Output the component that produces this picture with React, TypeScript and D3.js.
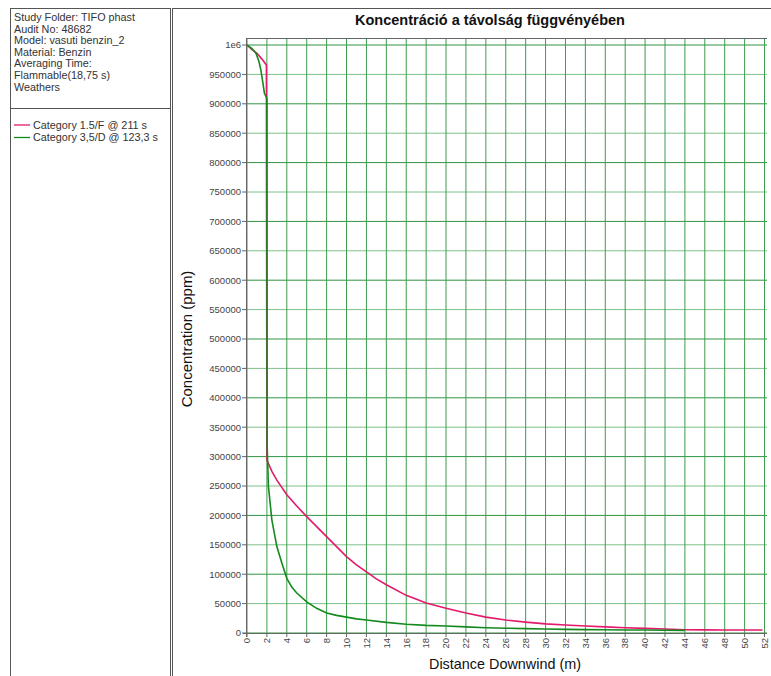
import React from "react";
import * as d3 from "d3";

const infoLines = [
  "Study Folder: TIFO phast",
  "Audit No: 48682",
  "Model: vasuti benzin_2",
  "Material: Benzin",
  "Averaging Time:",
  "Flammable(18,75 s)",
  "Weathers",
];

const seriesNames = ["Category 1.5/F @ 211 s", "Category 3,5/D @ 123,3 s"];
const seriesColors = ["#e3196b", "#138a1e"];

const redX = [0, 0.5, 1.0, 1.5, 1.95, 2.0, 2.5, 3, 4, 5, 6, 7, 8, 9, 10, 11, 12, 13, 14, 16, 18, 20, 22, 24, 26, 28, 30, 32, 34, 36, 38, 40, 42, 44, 46, 48, 50, 51.8];
const redY = [1000000, 992000, 986000, 976000, 966000, 294000, 275000, 260000, 235000, 216000, 198000, 181000, 164000, 147000, 130000, 116000, 104000, 92000, 82000, 64000, 51000, 42000, 34000, 27000, 22000, 18500, 15500, 13500, 12000, 10500, 9000, 7800, 6800, 5500, 5300, 5200, 5100, 5000];

const greenX = [0, 0.5, 0.9, 1.2, 1.4, 1.6, 1.75, 2.0, 2.02, 2.15, 2.5, 3, 3.5, 4, 4.5, 5, 6, 7, 8, 9, 10, 11, 12, 14, 16, 18, 20, 22, 24, 26, 28, 30, 32, 34, 36, 38, 40, 42, 44];
const greenY = [1000000, 994000, 986000, 972000, 957000, 935000, 918000, 909000, 320000, 250000, 192000, 147000, 119000, 93000, 78000, 68000, 53000, 42000, 34000, 30000, 27000, 24000, 22000, 18000, 15000, 13000, 12000, 10500, 9000, 8200, 7500, 6800, 6200, 5800, 5500, 5200, 5000, 4700, 4500];

const yTicks = d3.range(0, 1000001, 50000);
const xTicks = d3.range(0, 53, 2);

const title = "Koncentráció a távolság függvényében";
const xLabel = "Distance Downwind (m)";
const yLabel = "Concentration (ppm)";

const FONT = "Arial, 'Liberation Sans', sans-serif";

export default function App() {
  const W = 771, H = 676;
  const plotL = 247, plotR = 767, plotT = 38, plotB = 633;
  const x = d3.scaleLinear().domain([0, 52.25]).range([plotL, plotR]);
  const y = d3.scaleLinear().domain([0, 1000000]).range([plotB, 45]);
  const line = d3
    .line<[number, number]>()
    .x((d) => x(d[0]))
    .y((d) => y(d[1]));
  const red: [number, number][] = redX.map((v, i) => [v, redY[i]]);
  const green: [number, number][] = greenX.map((v, i) => [v, greenY[i]]);
  const fmtY = (v: number) => (v === 1000000 ? "1e6" : String(v));

  return (
    <svg
      width={W}
      height={H}
      style={{ position: "absolute", left: 0, top: 0, background: "#fff" }}
      fontFamily={FONT}
    >
      <rect x={0} y={0} width={W} height={H} fill="#fff" />
      {/* left info panel */}
      <rect x={10.5} y={8.5} width={160} height={H} fill="none" stroke="#555" strokeWidth={1} />
      <line x1={10.5} x2={170.5} y1={108.5} y2={108.5} stroke="#555" />
      {infoLines.map((t, i) => (
        <text key={t} x={14} y={21 + i * 11.6} fontSize={10.8} fill="#333" textLength={undefined}>
          {t}
        </text>
      ))}
      {seriesNames.map((t, i) => (
        <g key={t}>
          <line x1={14} x2={30} y1={125 + i * 12.5} y2={125 + i * 12.5} stroke={seriesColors[i]} strokeWidth={1.3} />
          <text x={33} y={128.5 + i * 12.5} fontSize={10.8} fill="#333">
            {t}
          </text>
        </g>
      ))}
      {/* chart panel */}
      <rect x={172.5} y={8.5} width={W} height={H} fill="none" stroke="#555" strokeWidth={1} />
      <text x={490} y={25} fontSize={14.5} fontWeight="bold" textAnchor="middle" fill="#111">
        {title}
      </text>
      {/* grid */}
      {yTicks.map((v) => (
        <line
          key={"h" + v}
          x1={plotL}
          x2={plotR}
          y1={y(v)}
          y2={y(v)}
          stroke={v % 100000 === 0 ? "#2f9440" : "#7cc288"}
          strokeWidth={1}
        />
      ))}
      {xTicks.map((v) => (
        <line
          key={"v" + v}
          x1={x(v)}
          x2={x(v)}
          y1={plotT}
          y2={plotB}
          stroke="#3d9c4c"
          strokeWidth={1}
        />
      ))}
      {/* frame */}
      <line x1={plotL} x2={plotR} y1={plotT + 0.5} y2={plotT + 0.5} stroke="#666" />
      <line x1={plotL - 0.5} x2={plotL - 0.5} y1={plotT} y2={plotB + 4} stroke="#666" />
      <line x1={plotL - 4} x2={plotR} y1={plotB + 0.5} y2={plotB + 0.5} stroke="#666" />
      {/* y ticks */}
      {yTicks.map((v) => (
        <g key={"yt" + v}>
          <line x1={plotL - 5} x2={plotL} y1={y(v)} y2={y(v)} stroke="#666" />
          <text x={plotL - 6} y={y(v) + 3.3} fontSize={9.5} textAnchor="end" fill="#444">
            {fmtY(v)}
          </text>
        </g>
      ))}
      {/* x ticks */}
      {xTicks.map((v) => (
        <g key={"xt" + v}>
          <line x1={x(v)} x2={x(v)} y1={plotB} y2={plotB + 4} stroke="#666" />
          <text
            transform={`translate(${x(v) + 3.3},${plotB + 5}) rotate(-90)`}
            fontSize={9.5}
            textAnchor="end"
            fill="#444"
          >
            {v}
          </text>
        </g>
      ))}
      {/* series */}
      <path d={line(red) || ""} fill="none" stroke={seriesColors[0]} strokeWidth={1.6} />
      <path d={line(green) || ""} fill="none" stroke={seriesColors[1]} strokeWidth={1.6} />
      {/* axis titles */}
      <text x={505} y={669} fontSize={14.4} textAnchor="middle" fill="#111">
        {xLabel}
      </text>
      <text transform="translate(192,339) rotate(-90)" fontSize={15} textAnchor="middle" fill="#111">
        {yLabel}
      </text>
    </svg>
  );
}
